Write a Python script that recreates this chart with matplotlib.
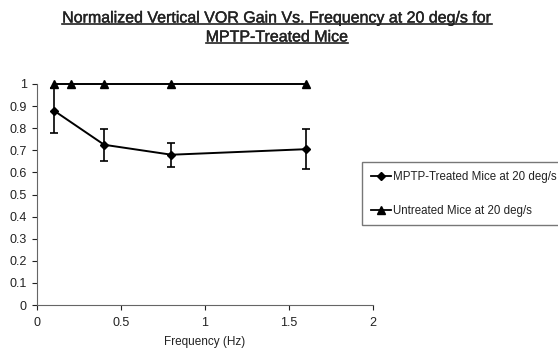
import matplotlib.pyplot as plt
import matplotlib.patheffects as pe
from matplotlib.lines import Line2D

plt.rcParams['font.family'] = ['Liberation Sans', 'DejaVu Sans']

# data
freq_mptp = [0.1, 0.4, 0.8, 1.6]
gain_mptp = [0.88, 0.725, 0.68, 0.705]
err_mptp = [0.1, 0.073, 0.055, 0.09]

freq_untreated = [0.1, 0.2, 0.4, 0.8, 1.6]
gain_untreated = [1, 1, 1, 1, 1]

x_ticks = [0, 0.5, 1, 1.5, 2]
x_tick_labels = ['0', '0.5', '1', '1.5', '2']
y_ticks = [0, 0.1, 0.2, 0.3, 0.4, 0.5, 0.6, 0.7, 0.8, 0.9, 1]
y_tick_labels = ['0', '0.1', '0.2', '0.3', '0.4', '0.5', '0.6', '0.7', '0.8', '0.9', '1']

title_lines = ['Normalized Vertical VOR Gain Vs. Frequency at 20 deg/s for',
               'MPTP-Treated Mice']

W, H = 558, 349
fig = plt.figure(figsize=(W / 100, H / 100), dpi=100)
ax = fig.add_axes([37 / W, 1 - 305 / H, (373 - 37) / W, (305 - 84) / H])

ax.errorbar(freq_mptp, gain_mptp, yerr=err_mptp, color='black', marker='D',
            markersize=4.5, linewidth=1.4, capsize=3, capthick=1.2,
            elinewidth=1.2, label='MPTP-Treated Mice at 20 deg/s', clip_on=False)
ax.plot(freq_untreated, gain_untreated, color='black', marker='^',
        markersize=6, linewidth=1.4, label='Untreated Mice at 20 deg/s', clip_on=False)

ax.set_xlim(0, 2)
ax.set_ylim(0, 1)
ax.set_xticks(x_ticks)
ax.set_xticklabels(x_tick_labels)
ax.set_yticks(y_ticks)
ax.set_yticklabels(y_tick_labels)
ax.tick_params(direction='out', length=3.5, width=0.8, labelsize=9, colors='#222222')
ax.tick_params(axis='x', pad=5.5)
ax.tick_params(axis='y', pad=4)
for side in ['top', 'right']:
    ax.spines[side].set_visible(False)
for side in ['left', 'bottom']:
    ax.spines[side].set_color('#666666')

fig.text(205 / W, 1.0 / H, 'Frequency (Hz)', ha='center', va='bottom',
         fontsize=8.5, color='#222222')

# legend box, partly cut off at the right edge as in the reference
handles = [Line2D([], [], color='black', marker='D', markersize=4, linewidth=1.3),
           Line2D([], [], color='black', marker='^', markersize=5.5, linewidth=1.3)]
leg = fig.legend(handles, ['MPTP-Treated Mice at 20 deg/s', 'Untreated Mice at 20 deg/s'],
                 loc='upper left', bbox_to_anchor=(362 / W, 1 - 162 / H),
                 fontsize=8.3, frameon=True, fancybox=False, handlelength=1.8,
                 handletextpad=0.1, labelspacing=1.9, borderpad=0.75,
                 borderaxespad=0, markerscale=1)
leg.get_frame().set_edgecolor('#555555')
leg.get_frame().set_linewidth(1.0)
for t in leg.get_texts():
    t.set_color('#222222')

# underlined title, slightly heavier strokes like the reference
title_y = [1 - 18 / H, 1 - 37 / H]
texts = []
for line, y in zip(title_lines, title_y):
    t = fig.text(277 / W, y, line, ha='center', va='center',
                 fontsize=11.5, color='#222222')
    t.set_path_effects([pe.withStroke(linewidth=0.3, foreground='#222222')])
    texts.append(t)
fig.canvas.draw()
renderer = fig.canvas.get_renderer()
for t in texts:
    bb = t.get_window_extent(renderer).transformed(fig.transFigure.inverted())
    fig.add_artist(Line2D([bb.x0, bb.x1], [bb.y0 + 0.004, bb.y0 + 0.004],
                          transform=fig.transFigure, color='#222222', linewidth=1.2))

fig.savefig('out.png', dpi=100)
